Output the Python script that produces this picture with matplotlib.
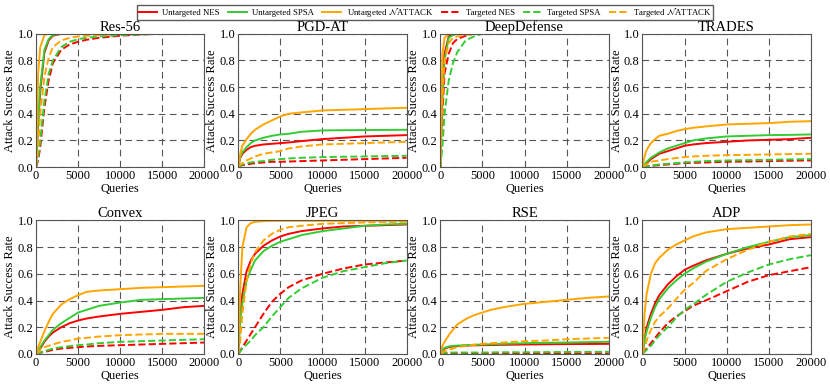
import matplotlib
matplotlib.use('Agg')
import matplotlib.pyplot as plt
plt.rcParams.update({'font.size': 9, 'font.family': 'serif',
                     'font.serif': ['Liberation Serif', 'DejaVu Serif'],
                     'mathtext.fontset': 'stix'})

#. data: attack success rate read at these query counts
queries = [0, 250, 500, 1000, 1500, 2000, 3000, 4000, 5000, 6000, 7500, 10000, 12500, 15000, 17500, 20000]

titles = ['Res-56', 'PGD-AT', 'DeepDefense', 'TRADES', 'Convex', 'JPEG', 'RSE', 'ADP']

# order: untargeted NES, SPSA, NATTACK, targeted NES, SPSA, NATTACK
res56 = [
    [0, 0.32, 0.57, 0.86, 0.95, 0.985, 1.0, 1.0, 1.0, 1.0, 1.0, 1.0, 1.0, 1.0, 1.0, 1.0],
    [0, 0.35, 0.60, 0.88, 0.96, 0.99, 1.0, 1.0, 1.0, 1.0, 1.0, 1.0, 1.0, 1.0, 1.0, 1.0],
    [0, 0.70, 0.90, 0.99, 1.0, 1.0, 1.0, 1.0, 1.0, 1.0, 1.0, 1.0, 1.0, 1.0, 1.0, 1.0],
    [0, 0.05, 0.15, 0.45, 0.65, 0.78, 0.88, 0.92, 0.94, 0.955, 0.97, 0.985, 0.995, 1.0, 1.0, 1.0],
    [0, 0.07, 0.20, 0.50, 0.70, 0.80, 0.90, 0.94, 0.96, 0.97, 0.98, 0.99, 0.995, 1.0, 1.0, 1.0],
    [0, 0.15, 0.40, 0.68, 0.82, 0.90, 0.95, 0.97, 0.98, 0.985, 0.99, 1.0, 1.0, 1.0, 1.0, 1.0],
]
pgdat = [
    [0, 0.07, 0.10, 0.13, 0.15, 0.16, 0.17, 0.175, 0.18, 0.185, 0.195, 0.21, 0.22, 0.23, 0.235, 0.24],
    [0, 0.08, 0.11, 0.15, 0.18, 0.20, 0.22, 0.235, 0.245, 0.25, 0.265, 0.275, 0.277, 0.278, 0.279, 0.28],
    [0, 0.10, 0.16, 0.21, 0.25, 0.28, 0.32, 0.35, 0.38, 0.40, 0.41, 0.425, 0.43, 0.435, 0.44, 0.445],
    [0, 0.01, 0.015, 0.02, 0.025, 0.03, 0.035, 0.04, 0.04, 0.042, 0.045, 0.05, 0.055, 0.06, 0.065, 0.07],
    [0, 0.01, 0.02, 0.03, 0.035, 0.04, 0.045, 0.055, 0.06, 0.065, 0.07, 0.075, 0.078, 0.08, 0.083, 0.085],
    [0, 0.02, 0.03, 0.05, 0.065, 0.08, 0.10, 0.11, 0.12, 0.14, 0.155, 0.17, 0.175, 0.18, 0.185, 0.19],
]
deepdef = [
    [0, 0.60, 0.85, 0.98, 1.0, 1.0, 1.0, 1.0, 1.0, 1.0, 1.0, 1.0, 1.0, 1.0, 1.0, 1.0],
    [0, 0.50, 0.80, 0.97, 0.99, 1.0, 1.0, 1.0, 1.0, 1.0, 1.0, 1.0, 1.0, 1.0, 1.0, 1.0],
    [0, 0.85, 0.97, 1.0, 1.0, 1.0, 1.0, 1.0, 1.0, 1.0, 1.0, 1.0, 1.0, 1.0, 1.0, 1.0],
    [0, 0.40, 0.70, 0.85, 0.93, 0.96, 0.985, 1.0, 1.0, 1.0, 1.0, 1.0, 1.0, 1.0, 1.0, 1.0],
    [0, 0.15, 0.40, 0.65, 0.78, 0.86, 0.95, 0.98, 1.0, 1.0, 1.0, 1.0, 1.0, 1.0, 1.0, 1.0],
    [0, 0.50, 0.80, 0.93, 0.97, 0.98, 0.99, 1.0, 1.0, 1.0, 1.0, 1.0, 1.0, 1.0, 1.0, 1.0],
]
trades = [
    [0, 0.01, 0.03, 0.06, 0.08, 0.10, 0.12, 0.14, 0.16, 0.17, 0.18, 0.19, 0.20, 0.205, 0.21, 0.22],
    [0, 0.02, 0.04, 0.07, 0.09, 0.11, 0.14, 0.16, 0.18, 0.20, 0.215, 0.23, 0.235, 0.24, 0.242, 0.245],
    [0, 0.08, 0.13, 0.18, 0.21, 0.235, 0.25, 0.27, 0.285, 0.295, 0.305, 0.32, 0.325, 0.33, 0.34, 0.345],
    [0, 0.002, 0.005, 0.01, 0.012, 0.015, 0.02, 0.025, 0.03, 0.032, 0.035, 0.04, 0.042, 0.045, 0.048, 0.05],
    [0, 0.002, 0.005, 0.01, 0.015, 0.02, 0.025, 0.03, 0.035, 0.04, 0.045, 0.05, 0.052, 0.055, 0.058, 0.06],
    [0, 0.01, 0.02, 0.04, 0.045, 0.05, 0.06, 0.068, 0.075, 0.08, 0.085, 0.09, 0.092, 0.095, 0.098, 0.10],
]
convex = [
    [0, 0.02, 0.04, 0.09, 0.13, 0.16, 0.20, 0.23, 0.25, 0.265, 0.28, 0.30, 0.315, 0.33, 0.35, 0.36],
    [0, 0.02, 0.05, 0.10, 0.14, 0.18, 0.23, 0.27, 0.31, 0.33, 0.36, 0.385, 0.405, 0.41, 0.415, 0.42],
    [0, 0.05, 0.09, 0.17, 0.24, 0.30, 0.37, 0.41, 0.44, 0.465, 0.475, 0.485, 0.495, 0.50, 0.505, 0.51],
    [0, 0.003, 0.008, 0.015, 0.022, 0.03, 0.04, 0.045, 0.05, 0.055, 0.06, 0.065, 0.07, 0.075, 0.08, 0.085],
    [0, 0.005, 0.01, 0.02, 0.03, 0.04, 0.05, 0.058, 0.065, 0.07, 0.08, 0.09, 0.095, 0.10, 0.105, 0.11],
    [0, 0.01, 0.03, 0.05, 0.06, 0.07, 0.09, 0.10, 0.115, 0.12, 0.13, 0.14, 0.145, 0.15, 0.15, 0.15],
]
jpeg = [
    [0, 0.30, 0.45, 0.62, 0.70, 0.75, 0.81, 0.85, 0.88, 0.90, 0.92, 0.94, 0.955, 0.96, 0.965, 0.97],
    [0, 0.25, 0.38, 0.55, 0.63, 0.70, 0.77, 0.81, 0.84, 0.86, 0.89, 0.92, 0.94, 0.96, 0.97, 0.975],
    [0, 0.50, 0.80, 0.95, 0.98, 0.99, 0.995, 0.997, 0.998, 0.998, 0.998, 0.998, 0.998, 0.998, 0.998, 0.998],
    [0, 0.02, 0.05, 0.10, 0.15, 0.20, 0.30, 0.39, 0.45, 0.50, 0.55, 0.60, 0.64, 0.67, 0.685, 0.70],
    [0, 0.02, 0.04, 0.07, 0.10, 0.14, 0.20, 0.28, 0.35, 0.42, 0.49, 0.57, 0.62, 0.65, 0.68, 0.70],
    [0, 0.10, 0.30, 0.55, 0.68, 0.76, 0.85, 0.90, 0.93, 0.95, 0.96, 0.975, 0.98, 0.985, 0.988, 0.99],
]
rse = [
    [0, 0.025, 0.04, 0.05, 0.055, 0.058, 0.062, 0.064, 0.065, 0.066, 0.068, 0.07, 0.072, 0.073, 0.074, 0.075],
    [0, 0.03, 0.045, 0.055, 0.06, 0.062, 0.065, 0.068, 0.07, 0.072, 0.075, 0.08, 0.083, 0.085, 0.088, 0.09],
    [0, 0.06, 0.09, 0.14, 0.18, 0.22, 0.26, 0.29, 0.31, 0.33, 0.35, 0.375, 0.39, 0.405, 0.42, 0.43],
    [0, 0.002, 0.003, 0.003, 0.003, 0.003, 0.003, 0.003, 0.003, 0.003, 0.003, 0.003, 0.003, 0.003, 0.003, 0.003],
    [0, 0.005, 0.008, 0.01, 0.01, 0.01, 0.01, 0.01, 0.01, 0.011, 0.012, 0.012, 0.013, 0.014, 0.015, 0.015],
    [0, 0.01, 0.02, 0.03, 0.04, 0.05, 0.06, 0.068, 0.075, 0.08, 0.085, 0.095, 0.10, 0.11, 0.115, 0.12],
]
adp = [
    [0, 0.12, 0.20, 0.30, 0.38, 0.44, 0.52, 0.58, 0.63, 0.66, 0.70, 0.75, 0.79, 0.82, 0.86, 0.875],
    [0, 0.10, 0.17, 0.27, 0.35, 0.41, 0.49, 0.55, 0.60, 0.64, 0.69, 0.75, 0.80, 0.84, 0.875, 0.89],
    [0, 0.30, 0.45, 0.60, 0.68, 0.72, 0.78, 0.82, 0.85, 0.88, 0.91, 0.935, 0.945, 0.955, 0.965, 0.97],
    [0, 0.02, 0.04, 0.08, 0.12, 0.16, 0.23, 0.28, 0.32, 0.36, 0.40, 0.47, 0.54, 0.59, 0.62, 0.65],
    [0, 0.015, 0.03, 0.06, 0.10, 0.14, 0.20, 0.27, 0.33, 0.37, 0.44, 0.54, 0.61, 0.67, 0.71, 0.74],
    [0, 0.05, 0.10, 0.18, 0.24, 0.28, 0.34, 0.41, 0.48, 0.53, 0.62, 0.71, 0.78, 0.84, 0.88, 0.90],
]
panels = [res56, pgdat, deepdef, trades, convex, jpeg, rse, adp]

#. labels and styles
labels = ['Untargeted NES', 'Untargeted SPSA', r'Untargeted $\mathcal{N}$ATTACK',
          'Targeted NES', 'Targeted SPSA', r'Targeted $\mathcal{N}$ATTACK']
colors = ['#ff0000', '#33cc33', '#ffa500'] * 2
styles = ['-'] * 3 + ['--'] * 3

#. plotting
fig, axs = plt.subplots(2, 4, figsize=(8.3, 3.88), dpi=100)
fig.subplots_adjust(left=0.0434, right=0.977, top=0.913, bottom=0.088, wspace=0.20, hspace=0.40)

for k, ax in enumerate(axs.flat):
    for i, y in enumerate(panels[k]):
        ax.plot(queries, y, c=colors[i], ls=styles[i], lw=1.4, label=labels[i])
    ax.set_xlim(0, 20000)
    ax.set_ylim(0, 1.0)
    ax.set_xticks([0, 5000, 10000, 15000, 20000])
    ax.set_yticks([0, 0.2, 0.4, 0.6, 0.8, 1.0])
    ax.set_yticklabels(['0.0', '0.2', '0.4', '0.6', '0.8', '1.0'])
    ax.grid(True, color='#555555', ls=(0, (6, 4)), lw=0.8)
    ax.set_axisbelow(True)
    ax.tick_params(length=0, pad=2, labelsize=9)
    for s in ax.spines.values():
        s.set_color('#555555')
    ax.set_title(titles[k], fontsize=10.5, pad=2)
    ax.set_xlabel('Queries', fontsize=9, labelpad=1)
    ax.set_ylabel('Attack Success Rate', fontsize=9, labelpad=1)

h, l = axs[0, 0].get_legend_handles_labels()
leg = fig.legend(h, l, loc='upper center', bbox_to_anchor=(0.512, 0.988), ncol=6, fontsize=6.3,
                 frameon=True, fancybox=False, edgecolor='#333333', columnspacing=0.9,
                 handlelength=2.2, handletextpad=0.6, borderpad=0.15, borderaxespad=0)
leg.get_frame().set_linewidth(1.0)

plt.savefig('out.png', dpi=100)
